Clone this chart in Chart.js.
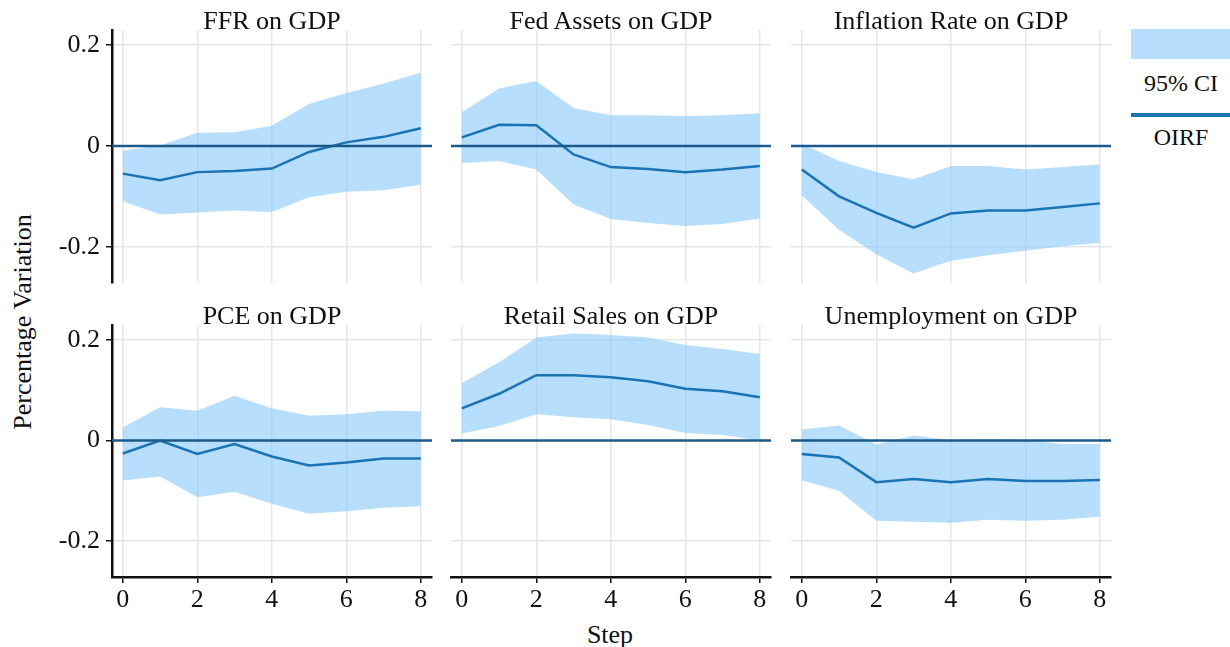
<!DOCTYPE html>
<html>
<head>
<meta charset="utf-8">
<script src="https://cdn.jsdelivr.net/npm/chart.js@4.4.1/dist/chart.umd.min.js"></script>
<style>
  body { margin:0; background:#fff; width:1230px; height:647px; overflow:hidden; position:relative;
         font-family:"Liberation Serif", "DejaVu Serif", serif; color:#111; }
  canvas { position:absolute; }
  .ttl { position:absolute; font-size:26px; line-height:26px; text-align:center; width:320px; white-space:nowrap; }
  .txt { position:absolute; font-size:26px; line-height:26px; white-space:nowrap; }
  .leg { position:absolute; font-size:24px; line-height:24px; white-space:nowrap; }
</style>
</head>
<body>
<div class="txt" style="left:23px; top:322px; transform:translate(-50%,-50%) rotate(-90deg);">Percentage Variation</div>
<div class="txt" style="left:610px; top:622px; transform:translateX(-50%);">Step</div>
<div style="position:absolute; left:1131px; top:29px; width:99px; height:30px; background:#b7defc;"></div>
<div class="leg" style="left:1181px; top:71px; transform:translateX(-50%);">95% CI</div>
<div style="position:absolute; left:1131px; top:113px; width:99px; height:4px; background:#1a73b5;"></div>
<div class="leg" style="left:1181px; top:125px; transform:translateX(-50%);">OIRF</div>

<script>
// horizon steps and axis ticks
const steps = [0, 1, 2, 3, 4, 5, 6, 7, 8];
const xTicks = [0, 2, 4, 6, 8];
const yTicks = [-0.2, 0, 0.2];

// FFR on GDP
const ffrIrf = [-0.055, -0.068, -0.052, -0.050, -0.045, -0.012, 0.007, 0.018, 0.035];
const ffrLo  = [-0.110, -0.136, -0.132, -0.128, -0.131, -0.102, -0.091, -0.088, -0.077];
const ffrHi  = [-0.009, 0.001, 0.026, 0.027, 0.040, 0.083, 0.105, 0.124, 0.145];
// Fed Assets on GDP
const fedIrf = [0.017, 0.042, 0.041, -0.017, -0.042, -0.046, -0.052, -0.047, -0.040];
const fedLo  = [-0.034, -0.030, -0.047, -0.116, -0.145, -0.153, -0.159, -0.155, -0.144];
const fedHi  = [0.067, 0.114, 0.129, 0.075, 0.061, 0.061, 0.059, 0.061, 0.065];
// Inflation Rate on GDP
const infIrf = [-0.047, -0.100, -0.133, -0.162, -0.134, -0.128, -0.128, -0.121, -0.114];
const infLo  = [-0.098, -0.167, -0.215, -0.253, -0.228, -0.217, -0.208, -0.199, -0.192];
const infHi  = [0.005, -0.030, -0.052, -0.066, -0.040, -0.040, -0.047, -0.042, -0.037];
// PCE on GDP
const pceIrf = [-0.026, 0.000, -0.027, -0.007, -0.032, -0.050, -0.044, -0.036, -0.036];
const pceLo  = [-0.080, -0.072, -0.113, -0.102, -0.126, -0.146, -0.141, -0.134, -0.131];
const pceHi  = [0.026, 0.066, 0.059, 0.089, 0.064, 0.049, 0.052, 0.059, 0.058];
// Retail Sales on GDP
const rsIrf = [0.064, 0.093, 0.130, 0.130, 0.126, 0.118, 0.103, 0.098, 0.086];
const rsLo  = [0.014, 0.029, 0.052, 0.046, 0.042, 0.031, 0.015, 0.011, 0.000];
const rsHi  = [0.114, 0.156, 0.205, 0.213, 0.210, 0.205, 0.190, 0.182, 0.172];
// Unemployment on GDP
const unIrf = [-0.027, -0.034, -0.083, -0.077, -0.083, -0.077, -0.081, -0.081, -0.079];
const unLo  = [-0.080, -0.100, -0.160, -0.162, -0.164, -0.158, -0.160, -0.158, -0.152];
const unHi  = [0.022, 0.030, -0.008, 0.010, 0.001, 0.003, 0.001, -0.007, -0.007];

Chart.defaults.font.family = '"Liberation Serif", "DejaVu Serif", serif';
Chart.defaults.font.size = 26;
Chart.defaults.color = '#111';

const colLeft = [112, 451, 791];
const rowTop = [30, 325];
const rowH = [253, 252];
const plotW = 320;
const padL = 80, padT = 24, padR = 14, padB = 50;

// dark reference line at y = 0
const zeroLine = {
  id: 'zeroLine',
  afterDatasetsDraw(chart) {
    const {ctx, chartArea, scales} = chart;
    const y = scales.y.getPixelForValue(0);
    ctx.save();
    ctx.strokeStyle = '#1b5a8a';
    ctx.lineWidth = 2.5;
    ctx.beginPath();
    ctx.moveTo(chartArea.left, y);
    ctx.lineTo(chartArea.right, y);
    ctx.stroke();
    ctx.restore();
  }
};

function pts(arr) {
  return steps.map((s, i) => ({x: s, y: arr[i]}));
}

function panel(col, row, title, irf, lo, hi) {
  const cv = document.createElement('canvas');
  const w = padL + plotW + padR, h = padT + rowH[row] + padB;
  cv.width = w; cv.height = h;
  cv.style.left = (colLeft[col] - padL) + 'px';
  cv.style.top = (rowTop[row] - padT) + 'px';
  document.body.appendChild(cv);

  const t = document.createElement('div');
  t.className = 'ttl';
  t.textContent = title;
  t.style.left = colLeft[col] + 'px';
  t.style.top = (rowTop[row] - 22) + 'px';
  document.body.appendChild(t);

  const firstCol = col === 0, bottomRow = row === 1;
  new Chart(cv, {
    type: 'line',
    data: {
      datasets: [
        {label: 'OIRF', data: pts(irf), borderColor: '#1a73b5', borderWidth: 2.5, pointRadius: 0, fill: false, order: 0},
        {label: 'lo', data: pts(lo), borderColor: 'rgba(0,0,0,0)', borderWidth: 0, pointRadius: 0, fill: false, order: 2},
        {label: '95% CI', data: pts(hi), borderColor: 'rgba(0,0,0,0)', borderWidth: 0, pointRadius: 0,
         fill: '-1', backgroundColor: 'rgba(135,200,250,0.6)', order: 1}
      ]
    },
    options: {
      responsive: false,
      animation: false,
      devicePixelRatio: 1,
      layout: {padding: {left: 0, top: padT, right: padR, bottom: 0}},
      plugins: {legend: {display: false}, tooltip: {enabled: false}},
      scales: {
        x: {
          type: 'linear', min: -0.29, max: 8.3,
          afterBuildTicks: s => { s.ticks = xTicks.map(v => ({value: v})); },
          afterFit: s => { s.height = padB; },
          grid: {color: '#e6e6e6', lineWidth: 1.5, drawTicks: bottomRow, tickColor: '#111', tickLength: 6, tickWidth: 1.5},
          border: {display: bottomRow, color: '#111', width: 2.5},
          ticks: {display: bottomRow, padding: 2, maxRotation: 0, callback: v => String(v)}
        },
        y: {
          min: -0.272, max: 0.23,
          afterBuildTicks: s => { s.ticks = yTicks.map(v => ({value: v})); },
          afterFit: s => { s.width = padL; },
          grid: {color: '#e6e6e6', lineWidth: 1.5, drawTicks: firstCol, tickColor: '#111', tickLength: 6, tickWidth: 1.5},
          border: {display: firstCol, color: '#111', width: 2.5},
          ticks: {display: firstCol, padding: 6, callback: v => v === 0 ? '0' : v.toFixed(1)}
        }
      }
    },
    plugins: [zeroLine]
  });
}

panel(0, 0, 'FFR on GDP', ffrIrf, ffrLo, ffrHi);
panel(1, 0, 'Fed Assets on GDP', fedIrf, fedLo, fedHi);
panel(2, 0, 'Inflation Rate on GDP', infIrf, infLo, infHi);
panel(0, 1, 'PCE on GDP', pceIrf, pceLo, pceHi);
panel(1, 1, 'Retail Sales on GDP', rsIrf, rsLo, rsHi);
panel(2, 1, 'Unemployment on GDP', unIrf, unLo, unHi);
</script>
</body>
</html>
